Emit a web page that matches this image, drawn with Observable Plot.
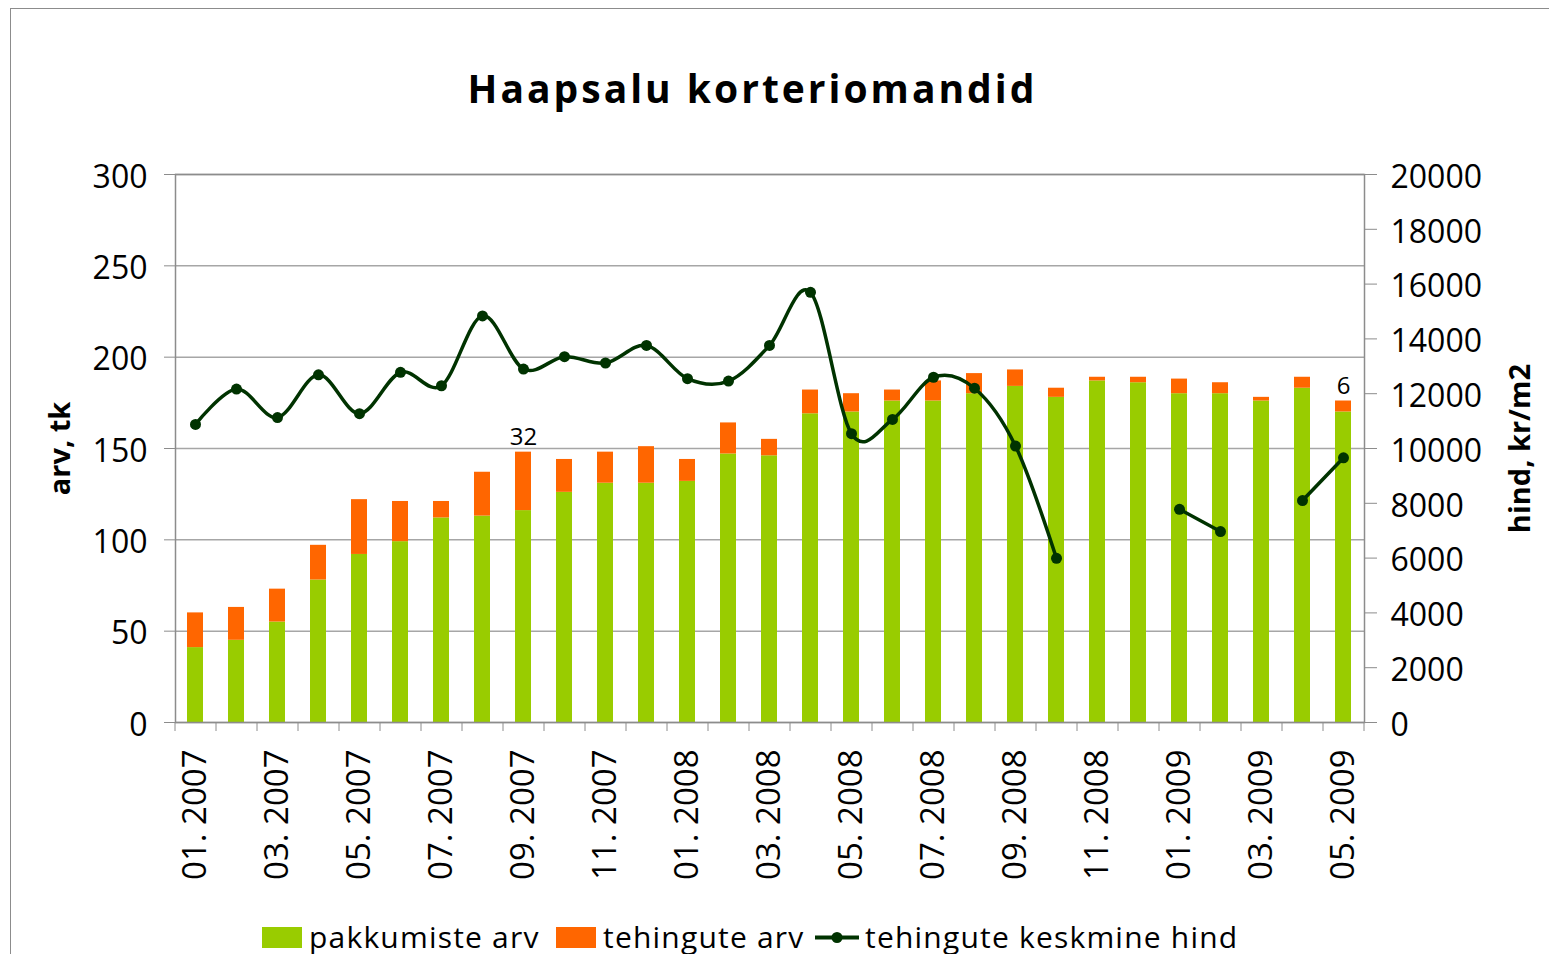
<!DOCTYPE html>
<html><head><meta charset="utf-8">
<script src="https://cdn.jsdelivr.net/npm/d3@7"></script>
<script src="https://cdn.jsdelivr.net/npm/@observablehq/plot@0.6"></script>
<style>
html,body{margin:0;padding:0;background:#fff;overflow:hidden;}
#wrap{position:relative;width:1549px;height:954px;overflow:hidden;font-family:"Open Sans",sans-serif;color:#000;}
#frame{position:absolute;left:10px;top:8px;width:1600px;height:1000px;border:1px solid #8c8c8c;box-sizing:border-box;}
#chart{position:absolute;left:0;top:0;}
#title{position:absolute;left:0;width:1505px;top:61px;text-align:center;font-weight:bold;font-size:39px;letter-spacing:3px;white-space:nowrap;}
.lg{position:absolute;top:922px;line-height:30px;font-size:30px;letter-spacing:1.2px;white-space:nowrap;}
.sw{position:absolute;top:927px;width:40px;height:21px;}
</style>
</head><body>
<div id="wrap">
  <div id="frame"></div>
  <div id="chart"></div>
  <div id="title">Haapsalu korteriomandid</div>
  <div id="legend"></div>
</div>
<script>
// ---- data ----
const months = ["01. 2007","02. 2007","03. 2007","04. 2007","05. 2007","06. 2007","07. 2007","08. 2007","09. 2007","10. 2007","11. 2007","12. 2007",
  "01. 2008","02. 2008","03. 2008","04. 2008","05. 2008","06. 2008","07. 2008","08. 2008","09. 2008","10. 2008","11. 2008","12. 2008",
  "01. 2009","02. 2009","03. 2009","04. 2009","05. 2009"];
const offers = [41,45,55,78,92,99,112,113,116,126,131,131,132,147,146,169,170,176,176,180,184,178,187,186,180,180,176,183,170];
const deals  = [19,18,18,19,30,22,9,24,32,18,17,20,12,17,9,13,10,6,11,11,9,5,2,3,8,6,2,6,6];
const price  = [10880,12170,11130,12690,11270,12780,12290,14840,12900,13350,13120,13760,12550,12460,13760,15700,10540,11060,12600,12200,10090,5990,null,null,7780,6970,null,8100,9660];
const labeledMonths = ["09. 2007","05. 2009"];
const leftTicks = [0,50,100,150,200,250,300];
const rightTicks = [0,2000,4000,6000,8000,10000,12000,14000,16000,18000,20000];
const xLabelMonths = months.filter((d,i) => i % 2 === 0);
const seriesNames = ["pakkumiste arv","tehingute arv","tehingute keskmine hind"];
const colors = {offers:"#99CC00", deals:"#FF6600", price:"#003300"};

// ---- layout ----
const W = 1549, H = 954, ML = 175, MR = 185, MT = 174, MB = 232;
const leftMax = 300, rightMax = 20000;
const k = leftMax / rightMax;
const step = (W - ML - MR) / months.length;

const rows = months.map((m,i) => ({
  month: m, offers: offers[i], deals: deals[i], total: offers[i] + deals[i],
  price: price[i] == null ? NaN : price[i] * k
}));

const chart = Plot.plot({
  width: W, height: H,
  marginLeft: ML, marginRight: MR, marginTop: MT, marginBottom: MB,
  style: {fontFamily: "'Open Sans', sans-serif", color: "#000", background: "transparent"},
  x: {type: "band", domain: months, paddingInner: 0.6, paddingOuter: 0.3},
  y: {domain: [0, leftMax]},
  marks: [
    Plot.gridY(leftTicks, {stroke: "#a6a6a6", strokeOpacity: 1, strokeWidth: 1.5}),
    Plot.rectY(rows, {x: "month", y1: 0, y2: "offers", fill: colors.offers}),
    Plot.rectY(rows, {x: "month", y1: "offers", y2: "total", fill: colors.deals}),
    Plot.frame({stroke: "#8c8c8c", strokeWidth: 1.5}),
    // left axis: ticks, then labels
    Plot.axisY({anchor: "left", ticks: leftTicks, tickSize: 11, tickFormat: () => "", stroke: "#8c8c8c", label: null}),
    Plot.axisY({anchor: "left", ticks: leftTicks, tickSize: 0, tickPadding: 28, fontSize: 32, label: null, dy: 3}),
    // right axis: ticks, then labels
    Plot.axisY({anchor: "right", ticks: rightTicks.map(v => v * k), tickSize: 12, tickFormat: () => "", stroke: "#8c8c8c", label: null}),
    Plot.axisY({anchor: "right", ticks: rightTicks.map(v => v * k), tickSize: 0, tickPadding: 26, fontSize: 32,
      tickFormat: d => String(Math.round(d / k)), label: null, dy: 3}),
    // x boundary ticks
    Plot.axisX({ticks: months, tickSize: 9, tickFormat: () => "", dx: -step / 2, stroke: "#8c8c8c", label: null}),
    Plot.axisX({ticks: months.slice(-1), tickSize: 9, tickFormat: () => "", dx: step / 2, stroke: "#8c8c8c", label: null}),
    // x labels
    Plot.axisX({ticks: xLabelMonths, tickSize: 0, tickPadding: 27, tickRotate: -90, fontSize: 33, label: null}),
    // axis titles
    Plot.text(["arv, tk"], {frameAnchor: "left", textAnchor: "middle", dx: -115, rotate: -90, fontSize: 29, fontWeight: "bold"}),
    Plot.text(["hind, kr/m2"], {frameAnchor: "right", textAnchor: "middle", dx: 156, rotate: -90, fontSize: 29, fontWeight: "bold"}),
    // price line
    Plot.line(rows, {x: "month", y: "price", curve: "cardinal", stroke: colors.price, strokeWidth: 3.5}),
    Plot.dot(rows.filter(d => !isNaN(d.price)), {x: "month", y: "price", r: 5.5, fill: colors.price}),
    // data labels
    Plot.text(rows.filter(d => labeledMonths.includes(d.month)), {x: "month", y: "total", text: d => String(d.deals), dy: -15, fontSize: 24})
  ]
});
document.getElementById("chart").appendChild(chart);

// legend
const lg = document.getElementById("legend");
lg.innerHTML = `
  <div class="sw" style="left:262px;background:${colors.offers}"></div>
  <div class="lg" style="left:309px">${seriesNames[0]}</div>
  <div class="sw" style="left:556px;background:${colors.deals}"></div>
  <div class="lg" style="left:603px">${seriesNames[1]}</div>
  <svg style="position:absolute;left:815px;top:927px" width="44" height="21"><line x1="0" y1="10.5" x2="44" y2="10.5" stroke="${colors.price}" stroke-width="4"/><circle cx="22" cy="10.5" r="5.5" fill="${colors.price}"/></svg>
  <div class="lg" style="left:865px">${seriesNames[2]}</div>`;
</script>
</body></html>
